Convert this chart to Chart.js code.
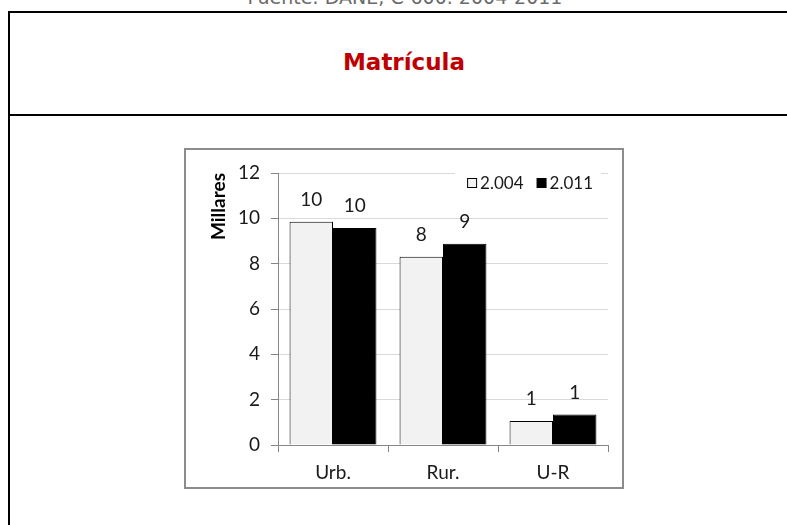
<!DOCTYPE html>
<html>
<head>
<meta charset="utf-8">
<script src="https://cdn.jsdelivr.net/npm/chart.js@4"></script>
<style>
  html, body { margin: 0; padding: 0; background: #fff; overflow: hidden; }
  body { width: 787px; height: 525px; position: relative; }
  #source {
    position: absolute; left: 0; width: 810px; top: -12px;
    text-align: center; font: 19px "DejaVu Sans", sans-serif; color: #6a6a6a;
    line-height: 1;
  }
  #frame {
    position: absolute; left: 8px; top: 11px; width: 900px; height: 600px;
    border: 2px solid #000; box-sizing: border-box;
  }
  #divider {
    position: absolute; left: 8px; top: 114px; width: 900px; height: 2px; background: #000;
  }
  #title {
    position: absolute; left: 0; width: 808px; top: 51px;
    text-align: center; font: bold 23px "DejaVu Sans", sans-serif; color: #c00000;
    line-height: 1;
  }
  #chart-box {
    position: absolute; left: 184px; top: 148px; width: 440px; height: 341px;
    border: 2px solid #8c8c8c; box-sizing: border-box; background: #fff;
  }
  #chart { display: block; }
</style>
</head>
<body>
<div id="source">Fuente: DANE, C-600. 2004-2011</div>
<div id="frame"></div>
<div id="divider"></div>
<div id="title">Matrícula</div>
<div id="chart-box"><canvas id="chart" width="436" height="337"></canvas></div>

<script>
// --- DATA (miles de matriculados) ---
const categories = ['Urb.', 'Rur.', 'U-R'];
const seriesNames = ['2.004', '2.011'];
const values2004 = [9.85, 8.31, 1.06];
const values2011 = [9.57, 8.88, 1.35];
const yTicks = [0, 2, 4, 6, 8, 10, 12];

const FONT = 'Lato, "DejaVu Sans", sans-serif';
const FSIZE = 19;
const TEXT = '#1a1a1a';
const AXIS = '#868686';

// rounded value written above each bar
const barLabels = {
  id: 'barLabels',
  afterDatasetsDraw(chart) {
    const ctx = chart.ctx;
    ctx.save();
    ctx.font = FSIZE + 'px ' + FONT;
    ctx.fillStyle = TEXT;
    ctx.textAlign = 'center';
    ctx.textBaseline = 'middle';
    chart.data.datasets.forEach((ds, i) => {
      chart.getDatasetMeta(i).data.forEach((bar, j) => {
        ctx.fillText(String(Math.round(ds.data[j])), bar.x, bar.y - 22);
      });
    });
    ctx.restore();
  }
};

// legend inside the plot, top right, over a white patch
const innerLegend = {
  id: 'innerLegend',
  afterDraw(chart) {
    const ctx = chart.ctx;
    const area = chart.chartArea;
    ctx.save();
    ctx.font = '17px ' + FONT;
    const box = 10, gapBox = 3, gapItem = 13;
    const items = chart.data.datasets.map(ds => ({
      label: ds.label, fill: ds.backgroundColor, w: ctx.measureText(ds.label).width
    }));
    const total = items.reduce((s, it) => s + box + gapBox + it.w, 0) + gapItem * (items.length - 1);
    const right = area.right - 15;
    let x = right - total;
    const cy = area.top + 10;
    ctx.fillStyle = '#fff';
    ctx.fillRect(x - 12, area.top - 3, total + 20, 22);
    ctx.textBaseline = 'middle';
    items.forEach(it => {
      ctx.fillStyle = it.fill;
      ctx.fillRect(x + 0.5, cy - box / 2 + 0.5, box - 1, box - 1);
      ctx.strokeStyle = '#000';
      ctx.lineWidth = 1;
      ctx.strokeRect(x + 0.5, cy - box / 2 + 0.5, box - 1, box - 1);
      ctx.fillStyle = TEXT;
      ctx.fillText(it.label, x + box + gapBox, cy + 1);
      x += box + gapBox + it.w + gapItem;
    });
    ctx.restore();
  }
};

new Chart(document.getElementById('chart'), {
  type: 'bar',
  data: {
    labels: categories,
    datasets: [
      { label: seriesNames[0], data: values2004, backgroundColor: '#f2f2f2', borderColor: '#000', borderWidth: 1 },
      { label: seriesNames[1], data: values2011, backgroundColor: '#000', borderColor: '#000', borderWidth: 1 }
    ]
  },
  options: {
    responsive: false,
    animation: false,
    events: [],
    layout: { padding: { left: 21, right: 14, top: 23, bottom: 0 } },
    datasets: { bar: { categoryPercentage: 0.79, barPercentage: 1.0 } },
    plugins: { legend: { display: false }, tooltip: { enabled: false } },
    scales: {
      x: {
        grid: { offset: true, drawOnChartArea: false, drawTicks: true, tickLength: 7, color: AXIS, tickColor: AXIS },
        border: { color: AXIS, width: 1 },
        ticks: { font: { family: FONT, size: FSIZE }, color: TEXT, padding: 9 },
        afterFit(scale) { scale.height = 42; }
      },
      y: {
        min: 0, max: 12,
        afterBuildTicks(scale) { scale.ticks = yTicks.map(v => ({ value: v })); },
        grid: { color: '#d9d9d9', tickColor: AXIS, tickLength: 7 },
        border: { color: AXIS, width: 1 },
        ticks: { font: { family: FONT, size: FSIZE }, color: TEXT, padding: 11 },
        title: {
          display: true, text: 'Millares', align: 'end',
          font: { family: FONT, size: FSIZE, weight: 'bold' }, color: '#000', padding: 0
        },
        afterFit(scale) { scale.width = 71; }
      }
    }
  },
  plugins: [barLabels, innerLegend]
});
</script>
</body>
</html>
